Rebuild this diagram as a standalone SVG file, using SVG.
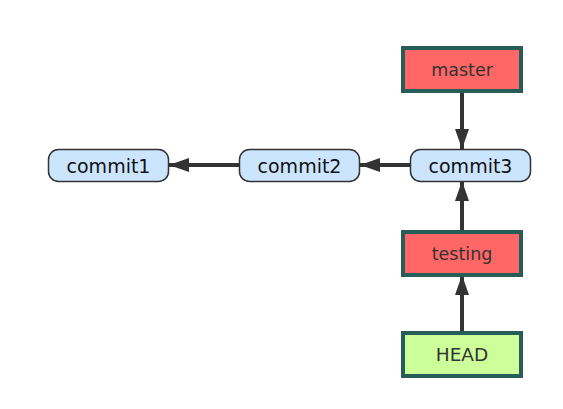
<svg xmlns="http://www.w3.org/2000/svg" width="563" height="409" viewBox="0 0 563 409">
<defs>
<style>
.commit rect{fill:#cce5ff;stroke:#333;stroke-width:1.5}
.branch rect{fill:#ff6666;stroke:#265e57;stroke-width:4}
.head rect{fill:#ccff99;stroke:#265e57;stroke-width:4}
text{font-family:"DejaVu Sans",sans-serif;text-anchor:middle;dominant-baseline:central}
.commit text{fill:#111;font-size:19px}
.branch text{fill:#333;font-size:17.5px}
.head text{fill:#333;font-size:18.5px}
.conn line{stroke:#333;stroke-width:4}
</style>
<marker id="ah" viewBox="0 0 10 7" refX="10" refY="3.5" markerWidth="5" markerHeight="3.5" orient="auto" markerUnits="strokeWidth">
<path d="M0,0 L10,3.5 L0,7 Z" fill="#333"/>
</marker>
</defs>
<rect width="563" height="409" fill="#fff"/>
<g id="connectors" class="conn">
<line x1="462" y1="92" x2="462" y2="149" marker-end="url(#ah)"/>
<line x1="462" y1="231" x2="462" y2="181" marker-end="url(#ah)"/>
<line x1="462" y1="332" x2="462" y2="275" marker-end="url(#ah)"/>
<line x1="410" y1="165" x2="360" y2="165" marker-end="url(#ah)"/>
<line x1="239" y1="165" x2="169" y2="165" marker-end="url(#ah)"/>
</g>
<g id="commit1" class="commit"><rect x="48.5" y="149.5" width="120" height="32" rx="10"/><text x="108.5" y="165.5">commit1</text></g>
<g id="commit2" class="commit"><rect x="239.5" y="149.5" width="120" height="32" rx="10"/><text x="299.5" y="165.5">commit2</text></g>
<g id="commit3" class="commit"><rect x="410.5" y="149.5" width="120" height="32" rx="10"/><text x="470.5" y="165.5">commit3</text></g>
<g id="master" class="branch"><rect x="403" y="48" width="118" height="43"/><text x="462" y="69.5">master</text></g>
<g id="testing" class="branch"><rect x="403" y="232" width="118" height="43"/><text x="462" y="253.5">testing</text></g>
<g id="HEAD" class="head"><rect x="403" y="333" width="118" height="43"/><text x="462" y="354.5">HEAD</text></g>
</svg>
